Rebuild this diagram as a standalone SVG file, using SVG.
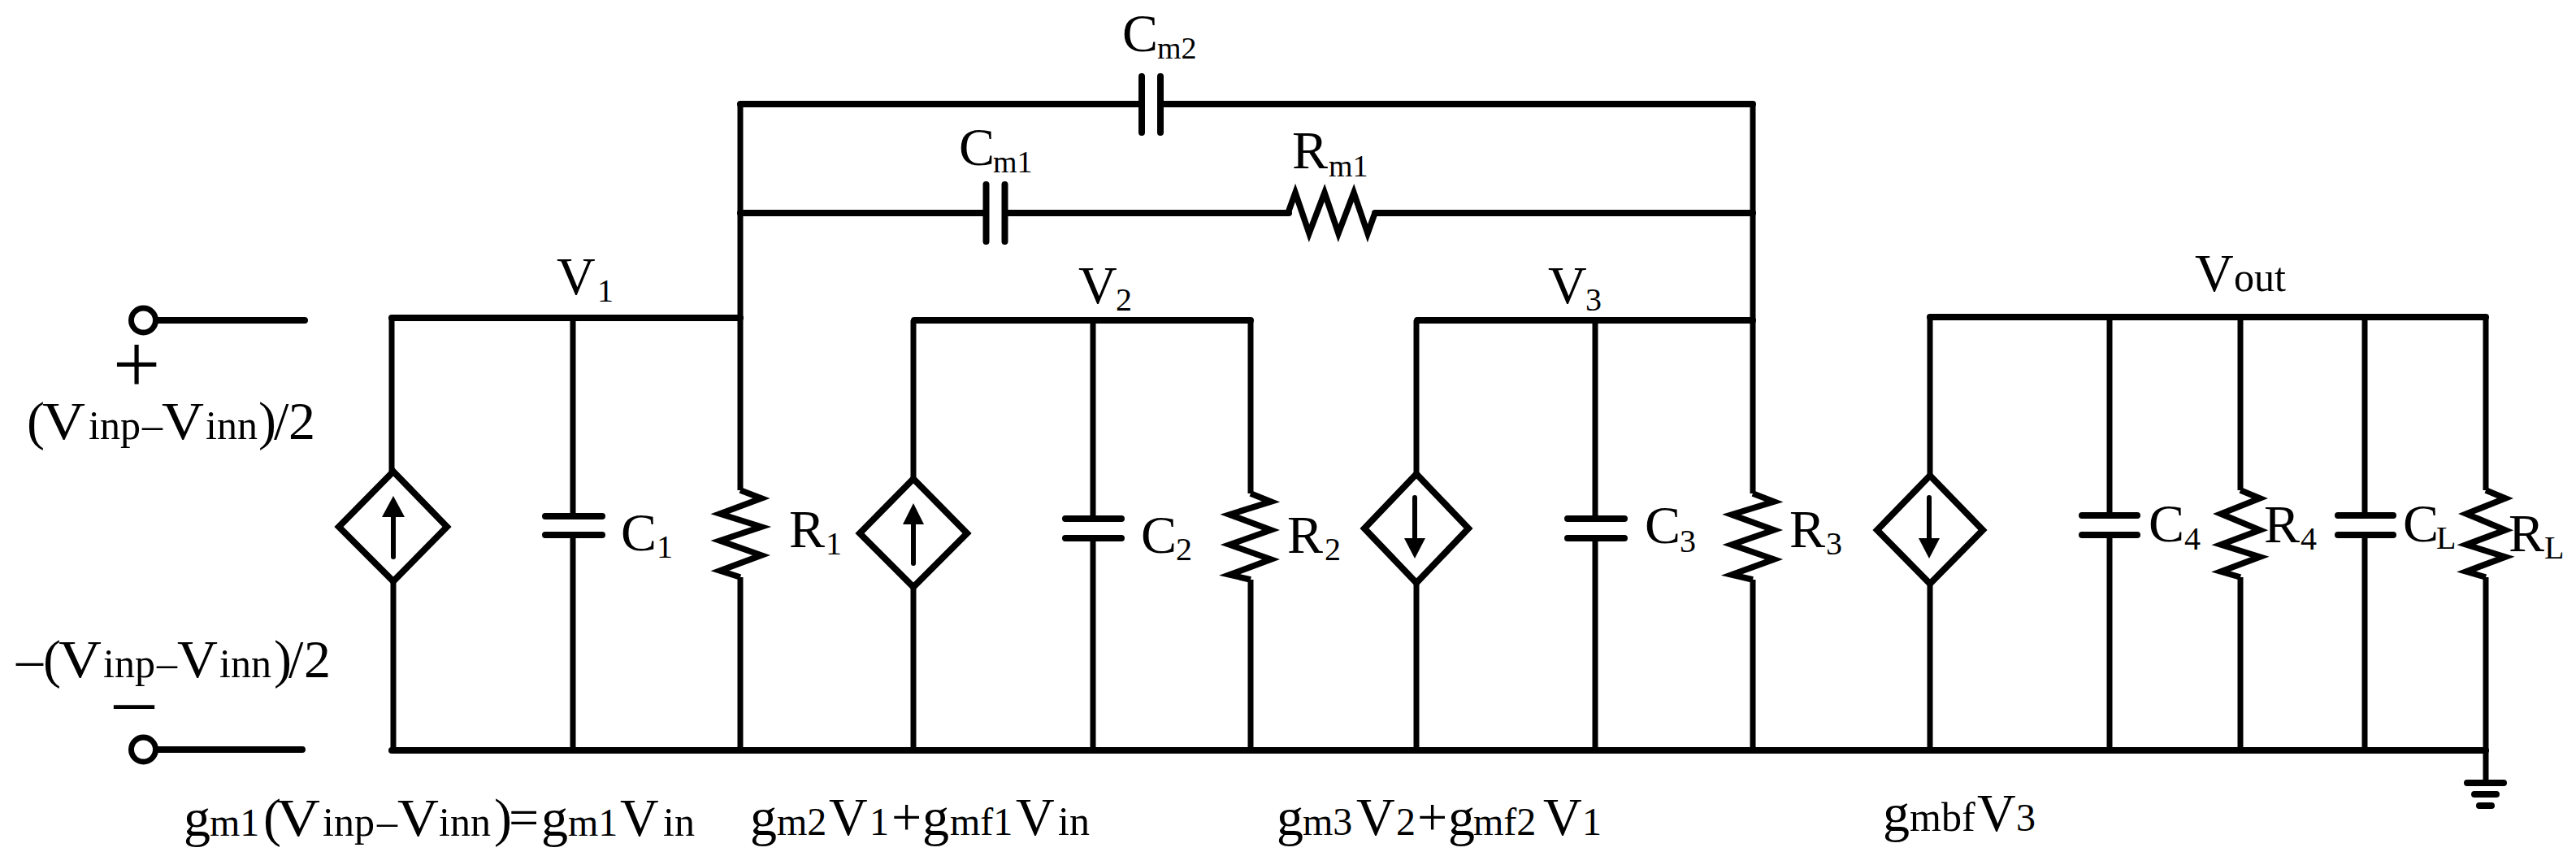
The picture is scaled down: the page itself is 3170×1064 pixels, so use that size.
<svg xmlns="http://www.w3.org/2000/svg" width="3170" height="1064" viewBox="0 0 3170 1064">
<style>
text{font-family:"Liberation Serif","Times New Roman",serif;fill:#000}
.t{font-size:66px}.s{font-size:50px}.n{font-size:48px}.u{font-size:40px}.m{font-size:38px}
.w{fill:none;stroke:#000;stroke-width:7}
.h{fill:none;stroke:#000;stroke-width:8;stroke-linecap:round}
.p{fill:none;stroke:#000;stroke-width:8;stroke-linecap:round}
.z{fill:none;stroke:#000;stroke-width:7.5;stroke-linejoin:miter}
.d{fill:#fff;stroke:#000;stroke-width:8;stroke-linejoin:miter}
.a{fill:none;stroke:#000;stroke-width:6;stroke-linecap:round}
.c{fill:#fff;stroke:#000;stroke-width:7}
</style>
<rect width="3170" height="1064" fill="#fff"/>
<g id="connectors">
<path class="h" d="M482 391H911M1125 394H1539M1744 394H2157M2375 390H3059M482 923H3059M911 128H1405M1428 128H2157M911 262H1213M1237 262H1586M1692 262H2157M186 394H375M186 922H372"/>
<path class="w" d="M482 391V582M484 714V923M705 391V635M705 659V923M911 128V603M911 710V923M1124 394V590M1124 722V923M1345 394V638M1345 662V923M1539 394V607M1539 713V923M1743 394V585M1743 717V923M1963 394V638M1963 662V923M2157 128V607M2157 713V923M2375 390V587M2375 718V923M2596 390V634M2596 658V923M2757 390V603M2757 710V923M2910 390V634M2910 658V923M3059 390V603M3059 710V963"/>
</g>
<g id="in-plus"><circle class="c" cx="176.500" cy="394" r="15"/>
<text x="168" y="483" font-size="104" text-anchor="middle">+</text>
<text y="540"><tspan class="t" x="33">(</tspan><tspan class="t" x="52" textLength="53" lengthAdjust="spacingAndGlyphs">V</tspan><tspan class="s" x="109">inp</tspan><tspan class="s" x="175">–</tspan><tspan class="t" x="199" textLength="52" lengthAdjust="spacingAndGlyphs">V</tspan><tspan class="s" x="253">inn</tspan><tspan class="t" x="318">)</tspan><tspan class="t" x="337">/</tspan><tspan class="t" x="355">2</tspan></text></g>
<g id="in-minus"><circle class="c" cx="176.500" cy="922" r="15"/>
<text x="165" y="892" font-size="98" text-anchor="middle">–</text>
<text y="833"><tspan class="t" x="20">–</tspan><tspan class="t" x="53">(</tspan><tspan class="t" x="72" textLength="53" lengthAdjust="spacingAndGlyphs">V</tspan><tspan class="s" x="127">inp</tspan><tspan class="s" x="193">–</tspan><tspan class="t" x="218" textLength="50" lengthAdjust="spacingAndGlyphs">V</tspan><tspan class="s" x="270">inn</tspan><tspan class="t" x="337">)</tspan><tspan class="t" x="355">/</tspan><tspan class="t" x="374">2</tspan></text></g>
<g id="V1"><text x="685" y="362" class="t">V</text><text x="735" y="371" class="u">1</text></g>
<g id="V2"><text x="1327" y="373" class="t">V</text><text x="1373" y="382" class="u">2</text></g>
<g id="V3"><text x="1905" y="373" class="t">V</text><text x="1951" y="382" class="u">3</text></g>
<g id="Vout"><text y="358"><tspan class="t" x="2701">V</tspan><tspan class="s" x="2749">out</tspan></text></g>
<g id="G1"><path class="d" d="M484 580L550 648L484 715L417 648Z"/><path class="a" d="M484 685V630"/><path d="M484 610L498 636H470Z"/>
<text y="1028"><tspan class="t" x="226">g</tspan><tspan class="n" x="258">m1</tspan><tspan class="t" x="324">(</tspan><tspan class="t" x="340" textLength="54" lengthAdjust="spacingAndGlyphs">V</tspan><tspan class="s" x="397">inp</tspan><tspan class="s" x="464">–</tspan><tspan class="t" x="489" textLength="51" lengthAdjust="spacingAndGlyphs">V</tspan><tspan class="s" x="540">inn</tspan><tspan class="t" x="608">)</tspan><tspan class="t" x="626">=</tspan><tspan class="t" x="666">g</tspan><tspan class="n" x="699">m1</tspan><tspan class="t" x="763">V</tspan><tspan class="s" x="816">in</tspan></text></g>
<g id="G2"><path class="d" d="M1124 589L1190 656L1124 722L1058 656Z"/><path class="a" d="M1124 693V640"/><path d="M1124 619L1137 645H1111Z"/>
<text y="1027"><tspan class="t" x="923">g</tspan><tspan class="n" x="956">m2</tspan><tspan class="t" x="1020">V</tspan><tspan class="n" x="1070">1</tspan><tspan class="t" x="1097">+</tspan><tspan class="t" x="1135">g</tspan><tspan class="n" x="1169">mf1</tspan><tspan class="t" x="1250">V</tspan><tspan class="s" x="1302">in</tspan></text></g>
<g id="G3"><path class="d" d="M1743 583L1807 650L1743 717L1679 650Z"/><path class="a" d="M1741 612V665"/><path d="M1741 687L1754 662H1728Z"/>
<text y="1027"><tspan class="t" x="1571">g</tspan><tspan class="n" x="1603">m3</tspan><tspan class="t" x="1669">V</tspan><tspan class="n" x="1718">2</tspan><tspan class="t" x="1744">+</tspan><tspan class="t" x="1782">g</tspan><tspan class="n" x="1813">mf2</tspan><tspan class="t" x="1899">V</tspan><tspan class="n" x="1947">1</tspan></text></g>
<g id="G4"><path class="d" d="M2375 585L2440 652L2375 718L2310 652Z"/><path class="a" d="M2374 612V665"/><path d="M2374 687L2387 662H2361Z"/>
<text y="1022"><tspan class="t" x="2317">g</tspan><tspan class="s" x="2350">mbf</tspan><tspan class="t" x="2433">V</tspan><tspan class="n" x="2481">3</tspan></text></g>
<g id="C1"><path class="p" d="M671 635H741M671 658H741"/><text x="764" y="677" class="t">C</text><text x="808" y="686" class="u">1</text></g>
<g id="R1"><path class="z" d="M911 603L937 613L886 632L937 648L886 665L937 683L886 702L911 710"/><text x="971" y="673" class="t">R</text><text x="1016" y="682" class="u">1</text></g>
<g id="C2"><path class="p" d="M1311 638H1380M1311 662H1380"/><text x="1404" y="680" class="t">C</text><text x="1447" y="689" class="u">2</text></g>
<g id="R2"><path class="z" d="M1539 607L1564 617L1513 633L1564 652L1513 670L1564 688L1513 707L1539 713"/><text x="1584" y="680" class="t">R</text><text x="1630" y="689" class="u">2</text></g>
<g id="C3"><path class="p" d="M1929 638H1999M1929 662H1999"/><text x="2024" y="668" class="t">C</text><text x="2067" y="679" class="u">3</text></g>
<g id="R3"><path class="z" d="M2157 607L2183 617L2131 633L2183 652L2131 670L2183 688L2131 707L2157 713"/><text x="2202" y="673" class="t">R</text><text x="2247" y="682" class="u">3</text></g>
<g id="C4"><path class="p" d="M2562 634H2630M2562 658H2630"/><text x="2644" y="666" class="t">C</text><text x="2688" y="676" class="u">4</text></g>
<g id="R4"><path class="z" d="M2757 603L2781 613L2733 632L2781 652L2733 670L2781 685L2733 703L2757 710"/><text x="2786" y="667" class="t">R</text><text x="2831" y="676" class="u">4</text></g>
<g id="CL"><path class="p" d="M2877 634H2945M2877 658H2945"/><text x="2957" y="666" class="t">C</text><text x="2998" y="675" class="u">L</text></g>
<g id="RL"><path class="z" d="M3059 603L3083 613L3035 632L3083 652L3035 670L3083 685L3035 703L3059 710"/><text x="3087" y="678" class="t">R</text><text x="3131" y="687" class="u">L</text></g>
<g id="Cm1"><path class="p" d="M1213.500 227V297M1236.500 227V297"/><text x="1180" y="203" class="t">C</text><text y="212" class="m"><tspan x="1222">m1</tspan></text></g>
<g id="Rm1"><path class="z" d="M1585 262L1594 237L1611 287L1630 237L1647 287L1666 237L1683 287L1692 262"/><text x="1590" y="207" class="t">R</text><text y="217" class="m"><tspan x="1635">m1</tspan></text></g>
<g id="Cm2"><path class="p" d="M1405 94V163M1428 94V163"/><text x="1381" y="63" class="t">C</text><text y="72" class="m"><tspan x="1424">m2</tspan></text></g>
<g id="ground"><path class="p" d="M3036 963H3081M3045 977H3072M3051 991H3066"/></g>
</svg>
